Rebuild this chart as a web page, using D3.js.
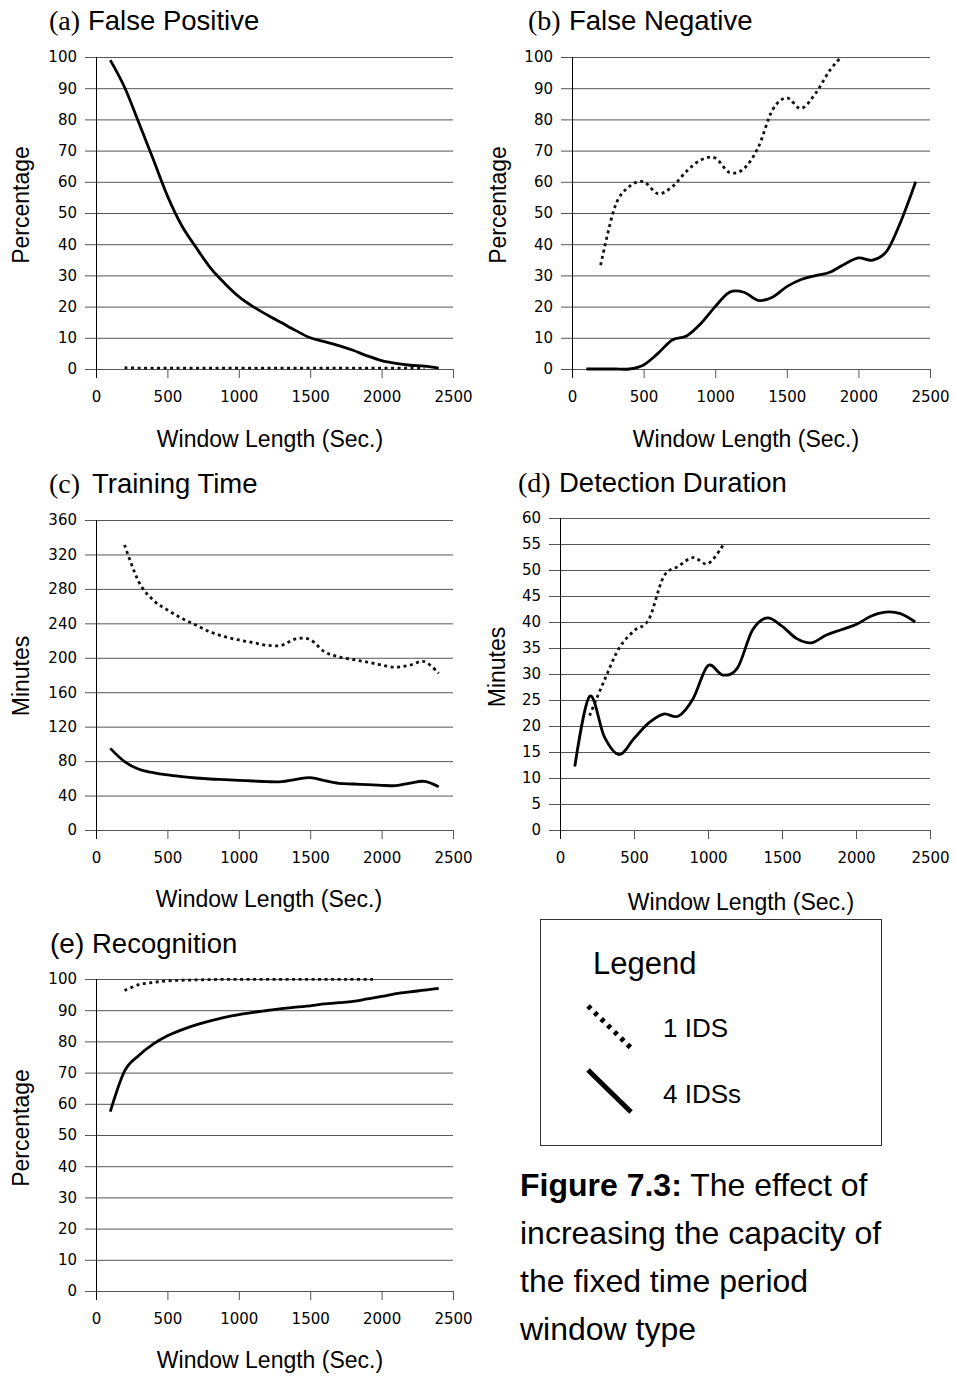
<!DOCTYPE html>
<html>
<head>
<meta charset="utf-8">
<script src="https://cdn.jsdelivr.net/npm/d3@7"></script>
<style>
  body { margin: 0; background: #fff; }
  svg { display: block; }
</style>
</head>
<body>
<svg id="fig" width="956" height="1379"></svg>
<script>
// window lengths (sec.) for the 4 IDSs runs
const winFour = [100, 200, 300, 400, 500, 600, 700, 800, 900, 1000, 1100, 1200,
                 1300, 1400, 1500, 1600, 1700, 1800, 1900, 2000, 2100, 2200, 2300, 2400];

// (a) false positive
const fpOneX = [200, 300, 400, 500, 600, 700, 800, 900, 1000, 1100, 1200, 1300,
                1400, 1500, 1600, 1700, 1800, 1900, 2000, 2100, 2200, 2300];
const fpOne = [0.4, 0.3, 0.3, 0.3, 0.3, 0.3, 0.3, 0.3, 0.3, 0.3, 0.3, 0.3,
               0.3, 0.3, 0.3, 0.3, 0.3, 0.3, 0.3, 0.3, 0.3, 0.3];
const fpFour = [99, 90.3, 78.9, 67.3, 55.5, 46, 39, 32.5, 27.5, 23.2, 20, 17.3,
                14.8, 12.3, 10, 8.8, 7.5, 6, 4.2, 2.7, 1.8, 1.2, 0.9, 0.3];

// (b) false negative
const fnOneX = [200, 300, 400, 500, 600, 700, 800, 900, 1000, 1100, 1200, 1300,
                1400, 1500, 1600, 1700, 1800, 1880];
const fnOne = [33.3, 52, 58.5, 60, 56.2, 58.4, 63.4, 67, 67.6, 63, 64.2, 71,
               83, 86.9, 83.5, 88.3, 95.7, 100];
const fnFour = [0, 0, 0, 0, 1.3, 5, 9.3, 10.6, 14.6, 20, 24.6, 24.6,
                22, 23, 26.4, 28.7, 29.9, 31, 33.5, 35.6, 34.9, 37.9, 47.7, 60];

// (c) training time (minutes)
const ttOneX = [200, 300, 400, 500, 600, 700, 800, 900, 1000, 1100, 1200, 1300,
                1400, 1500, 1600, 1700, 1800, 1900, 2000, 2100, 2200, 2300, 2400];
const ttOne = [331, 288, 267, 255.5, 246, 238, 230, 224.5, 220.7, 217.6, 214.5, 214.5,
               222, 221, 207, 201, 198, 195, 191.6, 189, 191.6, 195.5, 182];
const ttFour = [94.8, 79.4, 70.5, 66.6, 63.9, 62, 60.4, 59.2, 58.5, 57.7, 56.9, 56.1,
                56.1, 58.8, 60.8, 57.3, 54.2, 53.4, 52.7, 51.9, 51.5, 54.5, 56.5, 50.3];

// (d) detection duration (minutes)
const ddOneX = [200, 300, 400, 500, 600, 700, 800, 900, 1000, 1100];
const ddOne = [22, 28.8, 35, 38.3, 40.5, 48.7, 50.7, 52.4, 51.2, 54.7];
const ddFour = [12.2, 25.7, 17.9, 14.5, 17.6, 20.6, 22.3, 21.9, 25.3, 31.6, 29.8, 31.2,
                38.4, 40.8, 39.2, 36.8, 36, 37.5, 38.5, 39.5, 41.1, 41.9, 41.6, 40];

// (e) recognition
const recOneX = [200, 300, 400, 500, 600, 700, 800, 900, 1000, 1100, 1200, 1300,
                 1400, 1500, 1600, 1700, 1800, 1940];
const recOne = [96.3, 98.2, 98.9, 99.4, 99.6, 99.7, 99.8, 99.9, 99.9, 99.9, 99.9, 99.9,
                99.9, 99.9, 99.9, 99.9, 99.9, 99.9];
const recFour = [57.5, 70.5, 75.5, 79.1, 81.8, 83.7, 85.3, 86.6, 87.7, 88.6, 89.3, 89.9,
                 90.5, 91, 91.4, 92, 92.4, 92.8, 93.6, 94.4, 95.3, 95.9, 96.4, 97];

// tick labels
const xTicks = [0, 500, 1000, 1500, 2000, 2500];
const pctTicks = [0, 10, 20, 30, 40, 50, 60, 70, 80, 90, 100];
const trainTicks = [0, 40, 80, 120, 160, 200, 240, 280, 320, 360];
const detectTicks = [0, 5, 10, 15, 20, 25, 30, 35, 40, 45, 50, 55, 60];

const legendLabels = ['1 IDS', '4 IDSs'];

const SANS = 'Liberation Sans, Arial, sans-serif';
const TICKFONT = 'DejaVu Sans, sans-serif';
const SERIF = 'Liberation Serif, Times New Roman, serif';

const svg = d3.select('#fig');

const panels = [
  { tag: '(a)', tagFont: SERIF, title: 'False Positive', tagX: 49, titleX: 88, titleY: 30,
    left: 96, right: 453, top: 57, bottom: 369, ticks: pctTicks,
    yLabel: 'Percentage', yLabelX: 29, yLabelY: 205, xLabelX: 270, xLabelY: 447,
    one: [fpOneX, fpOne], four: [winFour, fpFour] },
  { tag: '(b)', tagFont: SERIF, title: 'False Negative', tagX: 528, titleX: 569, titleY: 30,
    left: 572, right: 930, top: 57, bottom: 369, ticks: pctTicks,
    yLabel: 'Percentage', yLabelX: 506, yLabelY: 205, xLabelX: 746, xLabelY: 447,
    one: [fnOneX, fnOne], four: [winFour, fnFour] },
  { tag: '(c)', tagFont: SERIF, title: 'Training Time', tagX: 49, titleX: 92, titleY: 493,
    left: 96, right: 453, top: 520, bottom: 830, ticks: trainTicks,
    yLabel: 'Minutes', yLabelX: 29, yLabelY: 676, xLabelX: 269, xLabelY: 907,
    one: [ttOneX, ttOne], four: [winFour, ttFour] },
  { tag: '(d)', tagFont: SERIF, title: 'Detection Duration', tagX: 518, titleX: 559, titleY: 492,
    left: 560, right: 930, top: 518, bottom: 830, ticks: detectTicks,
    yLabel: 'Minutes', yLabelX: 505, yLabelY: 667, xLabelX: 741, xLabelY: 910,
    one: [ddOneX, ddOne], four: [winFour, ddFour] },
  { tag: '(e)', tagFont: SANS, title: 'Recognition', tagX: 50, titleX: 92, titleY: 953,
    left: 96, right: 453, top: 979, bottom: 1291, ticks: pctTicks,
    yLabel: 'Percentage', yLabelX: 29, yLabelY: 1128, xLabelX: 270, xLabelY: 1368,
    one: [recOneX, recOne], four: [winFour, recFour] }
];

function drawPanel(p) {
  const g = svg.append('g');
  const x = d3.scaleLinear().domain([0, 2500]).range([p.left, p.right]);
  const y = d3.scaleLinear().domain([0, p.ticks[p.ticks.length - 1]]).range([p.bottom, p.top]);

  // horizontal grid lines plus the y tick labels
  const gy = g.append('g')
    .attr('transform', 'translate(' + p.right + ',0)')
    .call(d3.axisLeft(y).tickValues(p.ticks).tickFormat(d3.format('d'))
      .tickSize(p.right - p.left + 11).tickPadding(8));
  gy.select('.domain').remove();
  gy.selectAll('line').attr('stroke', '#555');
  gy.attr('font-family', TICKFONT).attr('font-size', 15);
  gy.selectAll('text').attr('fill', '#000');

  // x axis
  const gx = g.append('g')
    .attr('transform', 'translate(0,' + p.bottom + ')')
    .call(d3.axisBottom(x).tickValues(xTicks).tickFormat(d3.format('d'))
      .tickSize(9).tickPadding(13).tickSizeOuter(0));
  gx.select('.domain').attr('stroke', '#555');
  gx.selectAll('line').attr('stroke', '#555');
  gx.attr('font-family', TICKFONT).attr('font-size', 15);
  gx.selectAll('text').attr('fill', '#000');

  // vertical axis line
  g.append('line')
    .attr('x1', Math.round(x(0)) + 0.5).attr('x2', Math.round(x(0)) + 0.5)
    .attr('y1', p.top).attr('y2', p.bottom + 9)
    .attr('stroke', '#000');

  // Excel-style smoothing: uniform Catmull-Rom
  const line = d3.line()
    .x(d => x(d[0]))
    .y(d => y(d[1]))
    .curve(d3.curveCardinal.tension(0));

  g.append('path')
    .datum(d3.zip(p.four[0], p.four[1]))
    .attr('d', line)
    .attr('fill', 'none')
    .attr('stroke', '#000')
    .attr('stroke-width', 2.8)
    .attr('stroke-linejoin', 'round');

  g.append('path')
    .datum(d3.zip(p.one[0], p.one[1]))
    .attr('d', line)
    .attr('fill', 'none')
    .attr('stroke', '#111')
    .attr('stroke-width', 2.8)
    .attr('stroke-dasharray', '3,3.5');

  // titles
  g.append('text')
    .attr('x', p.tagX).attr('y', p.titleY)
    .attr('font-family', p.tagFont).attr('font-size', 28)
    .text(p.tag);
  g.append('text')
    .attr('x', p.titleX).attr('y', p.titleY)
    .attr('font-family', SANS).attr('font-size', 27.5)
    .text(p.title);

  // axis titles
  g.append('text')
    .attr('transform', 'translate(' + p.yLabelX + ',' + p.yLabelY + ') rotate(-90)')
    .attr('text-anchor', 'middle')
    .attr('font-family', SANS).attr('font-size', 23)
    .text(p.yLabel);
  g.append('text')
    .attr('x', p.xLabelX).attr('y', p.xLabelY)
    .attr('text-anchor', 'middle')
    .attr('font-family', SANS).attr('font-size', 23)
    .text('Window Length (Sec.)');
}

panels.forEach(drawPanel);

// legend box
const lg = svg.append('g');
lg.append('rect')
  .attr('x', 540.5).attr('y', 919.5).attr('width', 341).attr('height', 226)
  .attr('fill', 'none').attr('stroke', '#333').attr('stroke-width', 1);
lg.append('text')
  .attr('x', 593).attr('y', 974)
  .attr('font-family', SANS).attr('font-size', 31)
  .text('Legend');
lg.append('line')
  .attr('x1', 588).attr('y1', 1006).attr('x2', 631).attr('y2', 1048)
  .attr('stroke', '#000').attr('stroke-width', 5).attr('stroke-dasharray', '4,5.2');
lg.append('line')
  .attr('x1', 588).attr('y1', 1070).attr('x2', 631).attr('y2', 1112)
  .attr('stroke', '#000').attr('stroke-width', 5);
lg.selectAll('text.item')
  .data(legendLabels)
  .enter()
  .append('text')
  .attr('class', 'item')
  .attr('x', 663)
  .attr('y', (d, i) => 1037 + i * 66)
  .attr('font-family', SANS).attr('font-size', 26)
  .text(d => d);

// caption
const capLines = [
  ['Figure 7.3:', ' The effect of'],
  ['', 'increasing the capacity of'],
  ['', 'the fixed time period'],
  ['', 'window type']
];
const cap = svg.append('text')
  .attr('font-family', SANS).attr('font-size', 32);
capLines.forEach((l, i) => {
  const t = cap.append('tspan').attr('x', 520).attr('y', 1196 + i * 48);
  if (l[0]) {
    t.attr('font-weight', 'bold').text(l[0]);
    cap.append('tspan').text(l[1]);
  } else {
    t.text(l[1]);
  }
});
</script>
</body>
</html>
